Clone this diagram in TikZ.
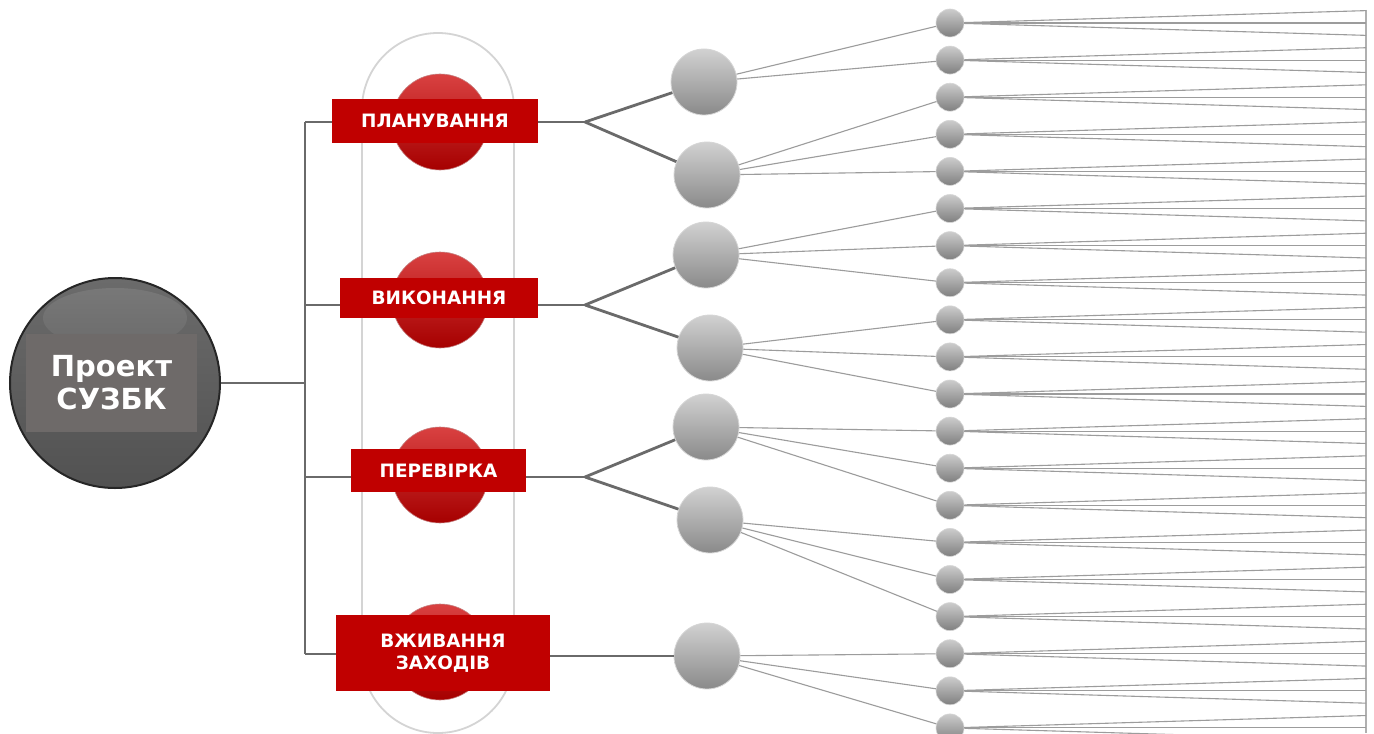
\documentclass[tikz,border=0pt]{standalone}
\usepackage{fontspec}
\setmainfont{DejaVu Sans}
\definecolor{treegray}{HTML}{6A6A6A}
\definecolor{fangray}{HTML}{9C9C9C}
\definecolor{boxred}{HTML}{C00000}
\definecolor{capsgray}{HTML}{D4D4D4}
\definecolor{lblgray}{HTML}{6E6A69}
\tikzset{
  tree/.style={draw=treegray, line width=1.4pt},
  fan/.style={draw=fangray, line width=0.55pt},
  edgeline/.style={draw=fangray!80, line width=0.6pt},
  capsule/.style={rectangle, rounded corners=38pt, draw=capsgray, line width=0.9pt, fill=white, minimum width=76pt, minimum height=350pt, inner sep=0pt},
  redball/.style={circle, minimum size=48pt, inner sep=0pt, top color=red!70!white!85!black, bottom color=red!65!black, draw=red!55!black!50, line width=0.3pt},
  midball/.style={circle, minimum size=33pt, inner sep=0pt, top color=black!18, bottom color=black!46, draw=black!16, line width=0.4pt},
  smallball/.style={circle, minimum size=14pt, inner sep=0pt, top color=black!20, bottom color=black!50, draw=black!16, line width=0.3pt},
  bigball/.style={circle, minimum size=105pt, inner sep=0pt, top color=black!58, bottom color=black!68, draw=black!85, line width=1pt},
  hilite/.style={ellipse, minimum width=72pt, minimum height=30pt, inner sep=0pt, top color=black!53, bottom color=black!58},
  redbox/.style={rectangle, fill=boxred, text=white, inner sep=0pt, align=center, font=\bfseries\fontsize{9.2}{11}\selectfont},
  lblbox/.style={rectangle, fill=lblgray, text=white, inner sep=0pt, align=center, minimum width=85.5pt, minimum height=49pt, font=\bfseries\fontsize{14.5}{16.5}\selectfont}
}
\usetikzlibrary{shapes.geometric}
\begin{document}
\begin{tikzpicture}[x=0.5pt,y=-0.5pt]
\clip (0,0) rectangle (1374,733);
\fill[white] (0,0) rectangle (1374,733);

% capsule behind red balls
\node[capsule] (caps) at (438,383) {};

% central node
\node[bigball] (big) at (115,383) {};
\node[hilite] (hl) at (115,318) {};
\node[lblbox] (lbl) at (111.5,383) {Проект\\СУЗБК};

% tree coordinates
\coordinate (hub) at (305,383);
\coordinate (t1) at (305,122);
\coordinate (t2) at (305,305);
\coordinate (t3) at (305,477);
\coordinate (t4) at (305,654);
\coordinate (f1) at (585,122);
\coordinate (f2) at (585,305);
\coordinate (f3) at (585,477);

% red balls
\node[redball] (r1) at (440,122) {};
\node[redball] (r2) at (440,300) {};
\node[redball] (r3) at (440,475) {};
\node[redball] (r4) at (440,652) {};

% boxes
\node[redbox, minimum width=103pt, minimum height=22pt] (b1) at (435,121) {ПЛАНУВАННЯ};
\node[redbox, minimum width=99pt, minimum height=20pt] (b2) at (439,298) {ВИКОНАННЯ};
\node[redbox, minimum width=87.5pt, minimum height=21.5pt] (b3) at (438.5,470.5) {ПЕРЕВІРКА};
\node[redbox, minimum width=107pt, minimum height=38pt] (b4) at (443,653) {ВЖИВАННЯ\\ЗАХОДІВ};

% medium balls
\node[midball] (m1) at (704,82) {};
\node[midball] (m2) at (707,175) {};
\node[midball] (m3) at (706,255) {};
\node[midball] (m4) at (710,348) {};
\node[midball] (m5) at (706,427) {};
\node[midball] (m6) at (710,520) {};
\node[midball] (m7) at (707,656) {};

% tree connectors
\draw[tree] (big) -- (hub);
\draw[tree] (t1) -- (t4);
\draw[tree] (t1) -- (t1 -| b1.west);
\draw[tree] (t2) -- (t2 -| b2.west);
\draw[tree] (t3) -- (t3 -| b3.west);
\draw[tree] (t4) -- (t4 -| b4.west);
\draw[tree] (f1 -| b1.east) -- (f1);
\draw[tree] (f2 -| b2.east) -- (f2);
\draw[tree] (f3 -| b3.east) -- (f3);
\draw[tree] (f1) -- (m1);
\draw[tree] (f1) -- (m2);
\draw[tree] (f2) -- (m3);
\draw[tree] (f2) -- (m4);
\draw[tree] (f3) -- (m5);
\draw[tree] (f3) -- (m6);
\draw[tree] (m7 -| b4.east) -- (m7);

% small balls
\foreach \i in {0,...,19} {
  \node[smallball] (s\i) at (950,{23+37.1*\i}) {};
}

% medium to small
\foreach \m/\s in {1/0,1/1,2/2,2/3,2/4,3/5,3/6,3/7,4/8,4/9,4/10,5/11,5/12,5/13,6/14,6/15,6/16,7/17,7/18,7/19} {
  \draw[fan] (m\m) -- (s\s);
}

% right fan
\coordinate (vt) at (1366,10);
\coordinate (vb) at (1366,733);
\draw[edgeline] (vt) -- (vb);
\foreach \i in {0,...,19} {
  \foreach \k/\d in {a/-12.37,b/0,c/12.37} {
    \coordinate (e\i\k) at (1366,{23+37.1*\i+\d});
    \draw[fan] (s\i) -- (e\i\k);
  }
}
\end{tikzpicture}
\end{document}
